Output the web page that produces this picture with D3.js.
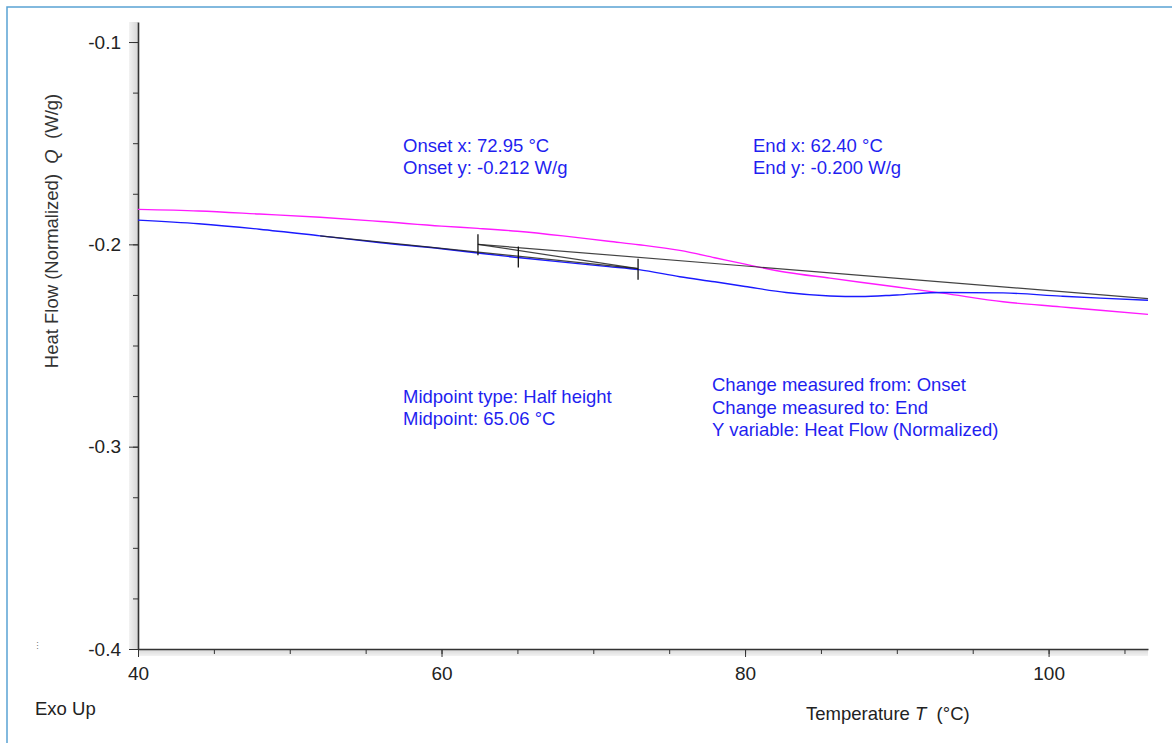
<!DOCTYPE html>
<html>
<head>
<meta charset="utf-8">
<script src="https://cdn.jsdelivr.net/npm/d3@7"></script>
<style>
  body { margin: 0; background: #fff; }
  svg { display: block; font-family: "Liberation Sans", Arial, sans-serif; }
</style>
</head>
<body>
<svg id="chart" width="1172" height="743"></svg>
<script>
// Temperatures (°C) where both traces were sampled
const temps = [40, 44, 48, 52, 56, 60, 62.4, 65, 68, 71, 73, 75.7, 78, 80, 82.7, 85.6, 87.6, 90, 93, 97, 100.8, 103.4, 106.55];
// Heat flow (W/g), magenta trace
const heatFlowMagenta = [-0.1827, -0.1835, -0.1850, -0.1866, -0.1887, -0.1910, -0.1921, -0.1935, -0.1958, -0.1985, -0.2002, -0.2030, -0.2066, -0.2098, -0.2138, -0.2167, -0.2187, -0.2211, -0.2241, -0.2284, -0.2309, -0.2326, -0.2346];
// Heat flow (W/g), blue trace
const heatFlowBlue = [-0.1880, -0.1898, -0.1925, -0.1958, -0.1992, -0.2022, -0.2043, -0.2065, -0.2088, -0.2110, -0.2125, -0.2160, -0.2185, -0.2208, -0.2238, -0.2255, -0.2258, -0.2250, -0.2238, -0.2240, -0.2256, -0.2266, -0.2276];

// Glass transition analysis points
const analysisNames = ["tangentStart", "end", "mid", "onset", "baselineEnd"];
const analysisT = [52.0, 62.40, 65.06, 72.95, 106.55];
const analysisQ = [-0.1958, -0.200, -0.206, -0.212, -0.2268];
const analysisSegments = [["tangentStart", "onset"], ["end", "onset"], ["end", "baselineEnd"]];
const markedPoints = ["end", "mid", "onset"];

// Axis ticks
const xTickLabels = [40, 60, 80, 100];
const yTickLabels = [-0.1, -0.2, -0.3, -0.4];

// Annotation text blocks
const onsetText = ["Onset x: 72.95 °C", "Onset y: -0.212 W/g"];
const endText = ["End x: 62.40 °C", "End y: -0.200 W/g"];
const midText = ["Midpoint type: Half height", "Midpoint: 65.06 °C"];
const changeText = ["Change measured from: Onset", "Change measured to: End", "Y variable: Heat Flow (Normalized)"];

const svg = d3.select("#chart");
const fontSize = 18.5;
const tickFontSize = 19;
const axisColor = "#333";
const noteColor = "#1f1ff0";

const x = d3.scaleLinear().domain([40, 106.55]).range([138, 1148]);
const y = d3.scaleLinear().domain([-0.0901, -0.4]).range([22, 649]);

// outer frame
svg.append("path")
    .attr("d", "M7,743 V7 H1172")
    .attr("fill", "none")
    .attr("stroke", "#5aa3d3")
    .attr("stroke-width", 1.5);

// grey shadow along the axes
let defs = svg.append("defs");
let gv = defs.append("linearGradient").attr("id", "shadeV").attr("x1", 0).attr("x2", 1);
gv.append("stop").attr("offset", 0).attr("stop-color", "#f2f2f2");
gv.append("stop").attr("offset", 1).attr("stop-color", "#d6d6d6");
let gh = defs.append("linearGradient").attr("id", "shadeH").attr("x1", 0).attr("x2", 0).attr("y1", 0).attr("y2", 1);
gh.append("stop").attr("offset", 0).attr("stop-color", "#d6d6d6");
gh.append("stop").attr("offset", 1).attr("stop-color", "#f2f2f2");

svg.append("rect")
    .attr("x", x(40) - 9).attr("y", y.range()[0])
    .attr("width", 9).attr("height", y.range()[1] - y.range()[0])
    .attr("fill", "url(#shadeV)");
svg.append("rect")
    .attr("x", x(40)).attr("y", y.range()[1])
    .attr("width", x.range()[1] - x(40)).attr("height", 7)
    .attr("fill", "url(#shadeH)");

// minor ticks
let yMinor = d3.range(-0.1, -0.401, -0.025);
svg.append("g")
    .attr("transform", "translate(" + x(40) + ",0)")
    .call(d3.axisLeft(y).tickValues(yMinor).tickSize(5).tickSizeOuter(0).tickFormat(""))
    .call(g => g.select(".domain").remove())
    .call(g => g.selectAll("line").attr("stroke", axisColor));

svg.append("g")
    .attr("transform", "translate(0," + y(-0.4) + ")")
    .call(d3.axisBottom(x).tickValues(d3.range(40, 106, 5)).tickSize(5).tickSizeOuter(0).tickFormat(""))
    .call(g => g.select(".domain").remove())
    .call(g => g.selectAll("line").attr("stroke", axisColor));

// major ticks with labels
let yAxis = svg.append("g")
    .attr("transform", "translate(" + x(40) + ",0)")
    .call(d3.axisLeft(y).tickValues(yTickLabels).tickSize(9).tickPadding(8).tickSizeOuter(0)
        .tickFormat(d => d.toFixed(1)));
yAxis.selectAll("text").attr("font-size", tickFontSize).attr("font-family", "Liberation Sans, Arial, sans-serif").attr("fill", "#222");
yAxis.selectAll("line").attr("stroke", axisColor);
yAxis.select(".domain").attr("stroke", axisColor).attr("stroke-width", 1.6);

let xAxis = svg.append("g")
    .attr("transform", "translate(0," + y(-0.4) + ")")
    .call(d3.axisBottom(x).tickValues(xTickLabels).tickSize(8).tickPadding(10).tickSizeOuter(0));
xAxis.selectAll("text").attr("font-size", tickFontSize).attr("font-family", "Liberation Sans, Arial, sans-serif").attr("fill", "#222");
xAxis.selectAll("line").attr("stroke", axisColor);
xAxis.select(".domain").attr("stroke", axisColor).attr("stroke-width", 1.6);

// traces
let line = d3.line().x(d => x(d[0])).y(d => y(d[1])).curve(d3.curveMonotoneX);
svg.append("path")
    .datum(d3.zip(temps, heatFlowMagenta))
    .attr("d", line)
    .attr("fill", "none")
    .attr("stroke", "#ff1aff")
    .attr("stroke-width", 1.4);
svg.append("path")
    .datum(d3.zip(temps, heatFlowBlue))
    .attr("d", line)
    .attr("fill", "none")
    .attr("stroke", "#1a1aff")
    .attr("stroke-width", 1.4);

// analysis construction lines
let pts = {};
analysisNames.forEach((n, i) => { pts[n] = [analysisT[i], analysisQ[i]]; });
svg.append("g").selectAll("line")
    .data(analysisSegments)
    .join("line")
    .attr("x1", d => x(pts[d[0]][0]))
    .attr("y1", d => y(pts[d[0]][1]))
    .attr("x2", d => x(pts[d[1]][0]))
    .attr("y2", d => y(pts[d[1]][1]))
    .attr("stroke", "#222")
    .attr("stroke-opacity", 0.85)
    .attr("stroke-width", 1.2);

svg.append("g").selectAll("line")
    .data(markedPoints)
    .join("line")
    .attr("x1", d => x(pts[d][0]))
    .attr("x2", d => x(pts[d][0]))
    .attr("y1", d => y(pts[d][1]) - 10)
    .attr("y2", d => y(pts[d][1]) + 11)
    .attr("stroke", "#111")
    .attr("stroke-width", 1.3);

// annotation blocks
function textBlock(lines, left, firstBaseline, spacing) {
    svg.append("text")
        .attr("font-size", fontSize)
        .attr("fill", noteColor)
        .selectAll("tspan")
        .data(lines)
        .join("tspan")
        .attr("x", left)
        .attr("y", (d, i) => firstBaseline + i * spacing)
        .text(d => d);
}
textBlock(onsetText, 403, 152, 22);
textBlock(endText, 753, 152, 22);
textBlock(midText, 403, 403, 22);
textBlock(changeText, 712, 391, 22.5);

// axis titles
let yTitle = svg.append("text")
    .attr("transform", "translate(58,231) rotate(-90)")
    .attr("text-anchor", "middle")
    .attr("font-size", fontSize)
    .attr("fill", "#333");
yTitle.append("tspan").text("Heat Flow (Normalized)\u00a0\u00a0");
yTitle.append("tspan").attr("font-style", "italic").text("Q");
yTitle.append("tspan").text("\u00a0\u00a0(W/g)");

let xTitle = svg.append("text")
    .attr("x", 806).attr("y", 720)
    .attr("font-size", fontSize)
    .attr("fill", "#222");
xTitle.append("tspan").text("Temperature\u00a0");
xTitle.append("tspan").attr("font-style", "italic").text("T");
xTitle.append("tspan").text("\u00a0\u00a0(°C)");

svg.append("text")
    .attr("x", 35).attr("y", 715)
    .attr("font-size", fontSize)
    .attr("fill", "#222")
    .text("Exo Up");

svg.append("text")
    .attr("x", 33).attr("y", 649)
    .attr("font-size", 9)
    .attr("fill", "#777")
    .text("\u22ee");
</script>
</body>
</html>
